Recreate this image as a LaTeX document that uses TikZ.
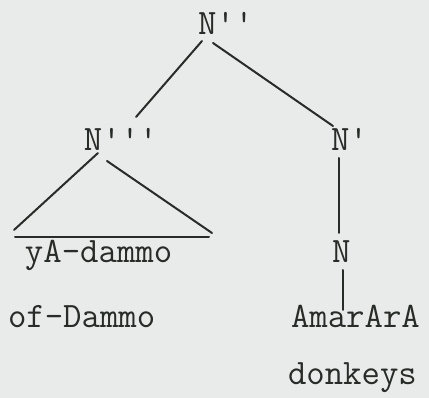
\documentclass[tikz,border=0pt]{standalone}
\begin{document}
\begin{tikzpicture}[x=0.75pt,y=-0.75pt,
  lbl/.style={anchor=base west,inner sep=0pt,outer sep=0pt,text=ink,font=\ttfamily\fontsize{26.8}{31}\selectfont},
  br/.style={draw=ink,line width=1.5pt,line cap=round}]
\definecolor{ink}{RGB}{40,44,40}
\definecolor{paper}{RGB}{233,235,235}
\fill[paper] (0,0) rectangle (429,398);
\useasboundingbox (0,0) rectangle (429,398);
\node[lbl] (npp) at (198,35) {N\textquotesingle\textquotesingle};
\node[lbl] (nppp) at (84,151) {N\textquotesingle\textquotesingle\textquotesingle};
\node[lbl] (np) at (331,151) {N\textquotesingle};
\node[lbl] (ya) at (25,263) {yA-dammo};
\node[lbl] (n) at (332,263) {N};
\node[lbl] (of) at (8,328) {of-Dammo};
\node[lbl] (am) at (291,328) {AmarArA};
\node[lbl] (dk) at (288,385) {donkeys};
\coordinate (a1) at (202,41); \coordinate (a2) at (136,117);
\coordinate (b1) at (213,43); \coordinate (b2) at (333,126);
\coordinate (c1) at (98,153); \coordinate (c2) at (14,230);
\coordinate (d1) at (107,161); \coordinate (d2) at (212,233);
\coordinate (e1) at (15,237); \coordinate (e2) at (209,237);
\coordinate (f1) at (339,158); \coordinate (f2) at (339,233);
\coordinate (g1) at (343,270); \coordinate (g2) at (343,310);
\draw[br] (a1) -- (a2);
\draw[br] (b1) -- (b2);
\draw[br] (c1) -- (c2);
\draw[br] (d1) -- (d2);
\draw[br] (e1) -- (e2);
\draw[br] (f1) -- (f2);
\draw[br] (g1) -- (g2);
\end{tikzpicture}
\end{document}
